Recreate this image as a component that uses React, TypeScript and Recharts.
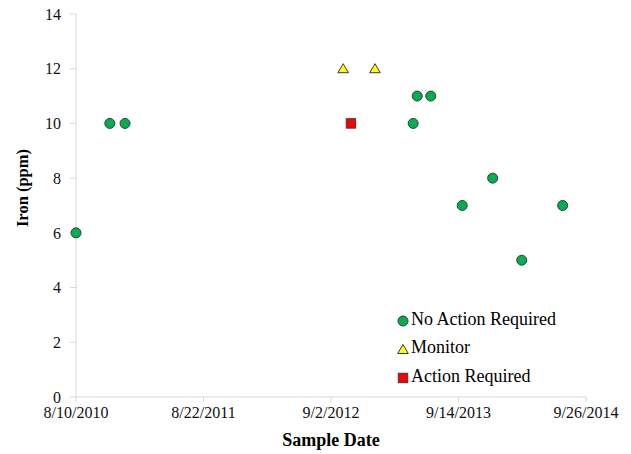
import { ScatterChart, Scatter, XAxis, YAxis, Legend } from "recharts";

const noActionDates = ["8/10/2010", "11/18/2010", "1/2/2011", "5/3/2013", "5/15/2013", "6/24/2013", "9/25/2013", "12/24/2013", "3/20/2014", "7/19/2014"];
const noActionIron = [6, 10, 10, 10, 11, 11, 7, 8, 5, 7];

const monitorDates = ["10/8/2012", "1/10/2013"];
const monitorIron = [12, 12];

const actionDates = ["10/31/2012"];
const actionIron = [10];

const xTickLabels = ["8/10/2010", "8/22/2011", "9/2/2012", "9/14/2013", "9/26/2014"];
const yTicks = [0, 2, 4, 6, 8, 10, 12, 14];

const toDay = (s: string) => {
  const [m, d, y] = s.split("/").map(Number);
  return Date.UTC(y, m - 1, d) / 86400000;
};

const fmtDay = (n: number) => {
  const dt = new Date(n * 86400000);
  return `${dt.getUTCMonth() + 1}/${dt.getUTCDate()}/${dt.getUTCFullYear()}`;
};

const build = (dates: string[], vals: number[]) =>
  dates.map((d, i) => ({ date: toDay(d), iron: vals[i] }));

const noAction = build(noActionDates, noActionIron);
const monitor = build(monitorDates, monitorIron);
const action = build(actionDates, actionIron);
const xTicks = xTickLabels.map(toDay);

const FONT = "Liberation Serif, Times New Roman, serif";
const AXIS = "#d9d9d9";
const OUTLINE = "#3a3a3a";

const Dot = (p: any) => (
  <circle cx={p.cx} cy={p.cy} r={5} fill="#00b050" stroke={OUTLINE} strokeWidth={1} />
);
const Tri = (p: any) => (
  <polygon
    points={`${p.cx - 5.3},${p.cy + 4} ${p.cx + 5.3},${p.cy + 4} ${p.cx},${p.cy - 5}`}
    fill="#ffff00"
    stroke={OUTLINE}
    strokeWidth={1}
  />
);
const Sq = (p: any) => (
  <rect x={p.cx - 4.7} y={p.cy - 4.7} width={9.4} height={9.4} fill="#ff0000" stroke={OUTLINE} strokeWidth={1} />
);

const legendItems = [
  { name: "No Action Required", kind: "circle" },
  { name: "Monitor", kind: "triangle" },
  { name: "Action Required", kind: "square" },
];

const LegendBox = () => (
  <div style={{ fontFamily: FONT, fontSize: 18, color: "#000" }}>
    {legendItems.map((it) => (
      <div key={it.name} style={{ height: 28.5, display: "flex", alignItems: "center" }}>
        <svg width={12} height={12} style={{ marginRight: 2, position: "relative", top: 1.5 }}>
          {it.kind === "circle" && <Dot cx={6} cy={6} />}
          {it.kind === "triangle" && <Tri cx={6} cy={6.5} />}
          {it.kind === "square" && <Sq cx={6} cy={6} />}
        </svg>
        <span>{it.name}</span>
      </div>
    ))}
  </div>
);

export default function App() {
  return (
    <div style={{ position: "absolute", left: 0, top: 0, background: "#fff", fontFamily: FONT }}>
      <ScatterChart
        width={631}
        height={454}
        margin={{ top: 14, right: 45, bottom: 0, left: 0 }}
        style={{ fontFamily: FONT }}
      >
        <XAxis
          type="number"
          dataKey="date"
          domain={[xTicks[0], xTicks[xTicks.length - 1]]}
          ticks={xTicks}
          tickFormatter={fmtDay}
          height={57}
          stroke={AXIS}
          tickSize={5}
          tickMargin={5}
          tick={{ fill: "#111", fontFamily: FONT, fontSize: 16 }}
          label={{
            content: () => (
              <text x={331} y={446} textAnchor="middle" fontFamily={FONT} fontSize={18} fontWeight="bold" fill="#000">
                Sample Date
              </text>
            ),
          }}
        />
        <YAxis
          type="number"
          dataKey="iron"
          domain={[0, 14]}
          ticks={yTicks}
          width={76}
          stroke={AXIS}
          tickSize={6}
          tickMargin={9}
          tick={{ fill: "#111", fontFamily: FONT, fontSize: 16 }}
          label={{
            content: () => (
              <text x={28} y={188} transform="rotate(-90 28 188)" textAnchor="middle" fontFamily={FONT} fontSize={16.5} fontWeight="bold" fill="#000">
                Iron (ppm)
              </text>
            ),
          }}
        />
        <Legend
          layout="vertical"
          align="center"
          verticalAlign="middle"
          content={<LegendBox />}
          wrapperStyle={{ left: 397, top: 305, width: 200 }}
        />
        <Scatter name="No Action Required" data={noAction} shape={Dot} isAnimationActive={false} />
        <Scatter name="Monitor" data={monitor} shape={Tri} isAnimationActive={false} />
        <Scatter name="Action Required" data={action} shape={Sq} isAnimationActive={false} />
      </ScatterChart>
    </div>
  );
}
